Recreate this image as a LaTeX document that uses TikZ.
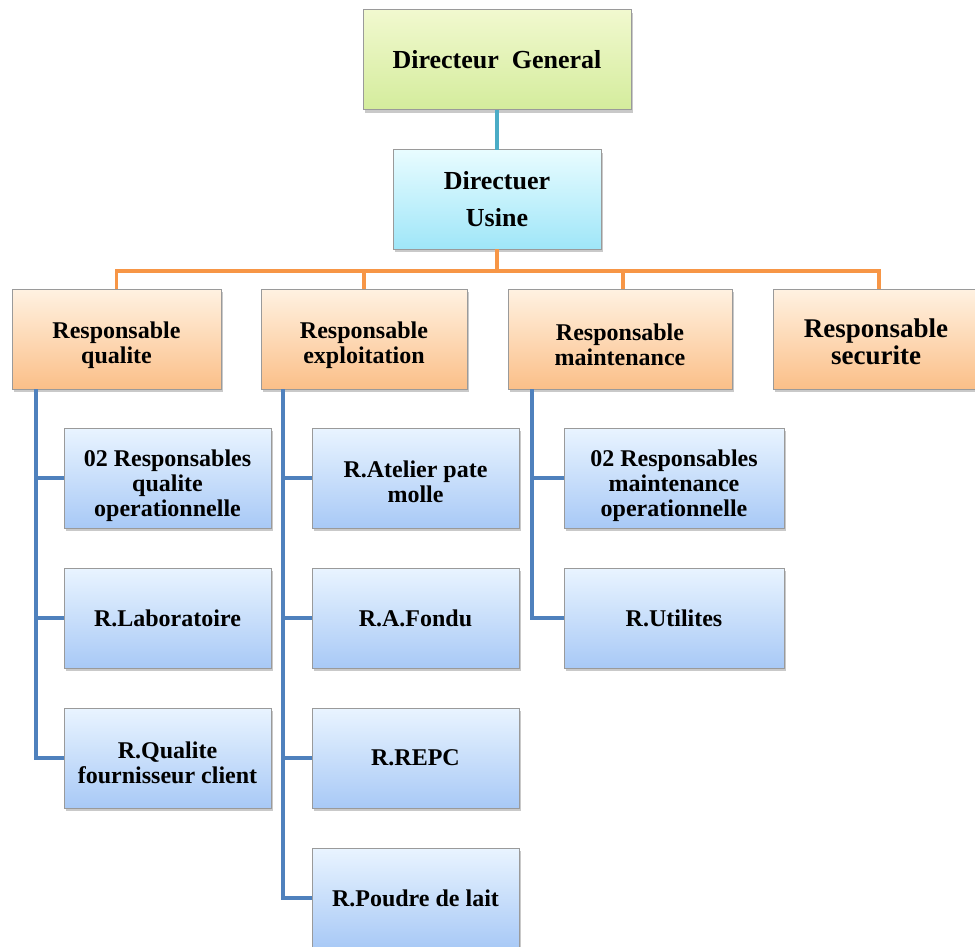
\documentclass[tikz,border=0pt]{standalone}
\usepackage{fontspec}
\setmainfont{Liberation Serif}
\usetikzlibrary{shadows,calc}
\definecolor{dgtop}{HTML}{F1F9CF}
\definecolor{dgbot}{HTML}{D4EC9C}
\definecolor{dutop}{HTML}{E8FCFF}
\definecolor{dubot}{HTML}{9FE6F8}
\definecolor{ortop}{HTML}{FFF2E2}
\definecolor{orbot}{HTML}{FBBF88}
\definecolor{bltop}{HTML}{E9F4FF}
\definecolor{blbot}{HTML}{A8C9F6}
\definecolor{bordergray}{HTML}{9A9A9A}
\definecolor{tealline}{HTML}{4BACC6}
\definecolor{orline}{HTML}{F79646}
\definecolor{blline}{HTML}{4F81BD}
\newcommand{\lowerby}[1]{\rule{0pt}{\dimexpr 21pt+2\dimexpr #1\relax\relax}}
\tikzset{
  boxbase/.style={draw=bordergray, line width=1pt, inner sep=2pt, outer sep=0pt, align=center,
    drop shadow={shadow xshift=2pt, shadow yshift=-3pt, opacity=0.35, fill=black!60},
    font=\fontsize{24}{25}\selectfont\bfseries},
  dgbox/.style={boxbase, top color=dgtop, bottom color=dgbot, font=\fontsize{26}{30}\selectfont\bfseries},
  dubox/.style={boxbase, top color=dutop, bottom color=dubot, font=\fontsize{26}{37}\selectfont\bfseries},
  orbox/.style={boxbase, top color=ortop, bottom color=orbot, minimum height=100pt},
  blbox/.style={boxbase, top color=bltop, bottom color=blbot, minimum height=100pt},
  teal conn/.style={draw=tealline, line width=3.5pt},
  orange conn/.style={draw=orline, line width=3.5pt},
  blue conn/.style={draw=blline, line width=3.5pt},
}
\begin{document}
\begin{tikzpicture}[x=1pt,y=-1pt]
\clip (0,0) rectangle (975,947);
\fill[white] (0,0) rectangle (975,947);

% top levels
\node[dgbox, minimum width=268pt, minimum height=100pt] (DG) at (497,60) {Directeur\ \ General};
\node[dubox, minimum width=208pt, minimum height=99pt] (DU) at (497,199.5) {Directuer\\Usine};

% responsables
\node[orbox, minimum width=209pt] (RQ) at (116.5,339) {\lowerby{4pt}Responsable\\qualite};
\node[orbox, minimum width=206pt] (RE) at (364,339) {\lowerby{4pt}Responsable\\exploitation};
\node[orbox, minimum width=224pt] (RM) at (620,339) {\lowerby{4pt}Responsable\\maintenance};
\node[orbox, minimum width=206pt, font=\fontsize{27}{27}\selectfont\bfseries] (RS) at (876,339) {\lowerby{2pt}Responsable\\securite};

% qualite subs
\node[blbox, minimum width=207pt] (Q1) at (167.5,478) {\lowerby{6pt}02 Responsables\\qualite\\operationnelle};
\node[blbox, minimum width=207pt] (Q2) at (167.5,618) {R.Laboratoire};
\node[blbox, minimum width=207pt] (Q3) at (167.5,758) {\lowerby{3pt}R.Qualite\\fournisseur client};

% exploitation subs
\node[blbox, minimum width=207pt] (E1) at (415.5,478) {\lowerby{2pt}R.Atelier pate\\molle};
\node[blbox, minimum width=207pt] (E2) at (415.5,618) {R.A.Fondu};
\node[blbox, minimum width=207pt] (E3) at (415.5,758) {R.REPC};
\node[blbox, minimum width=207pt] (E4) at (415.5,898) {R.Poudre de lait};

% maintenance subs
\node[blbox, minimum width=220pt] (M1) at (674,478) {\lowerby{6pt}02 Responsables\\maintenance\\operationnelle};
\node[blbox, minimum width=220pt] (M2) at (674,618) {R.Utilites};

% connectors
\draw[teal conn] (DG.south) -- (DU.north);
\coordinate (bus) at (497,271);
\draw[orange conn] (DU.south) -- (bus);
\draw[orange conn, line join=miter] (RQ.north) -- (RQ.north |- bus) -- ([xshift=3pt]RS.north |- bus) -- ([xshift=3pt]RS.north);
\draw[orange conn] (RE.north |- bus) -- (RE.north);
\draw[orange conn] ([xshift=3pt]RM.north |- bus) -- ([xshift=3pt]RM.north);

\coordinate (qa) at ([xshift=24pt]RQ.south west);
\draw[blue conn, line join=miter] (qa) |- (Q3.west);
\draw[blue conn] (qa |- Q1.west) -- (Q1.west);
\draw[blue conn] (qa |- Q2.west) -- (Q2.west);

\coordinate (ea) at ([xshift=22pt]RE.south west);
\draw[blue conn, line join=miter] (ea) |- (E4.west);
\draw[blue conn] (ea |- E1.west) -- (E1.west);
\draw[blue conn] (ea |- E2.west) -- (E2.west);
\draw[blue conn] (ea |- E3.west) -- (E3.west);

\coordinate (ma) at ([xshift=24pt]RM.south west);
\draw[blue conn, line join=miter] (ma) |- (M2.west);
\draw[blue conn] (ma |- M1.west) -- (M1.west);
\end{tikzpicture}
\end{document}
